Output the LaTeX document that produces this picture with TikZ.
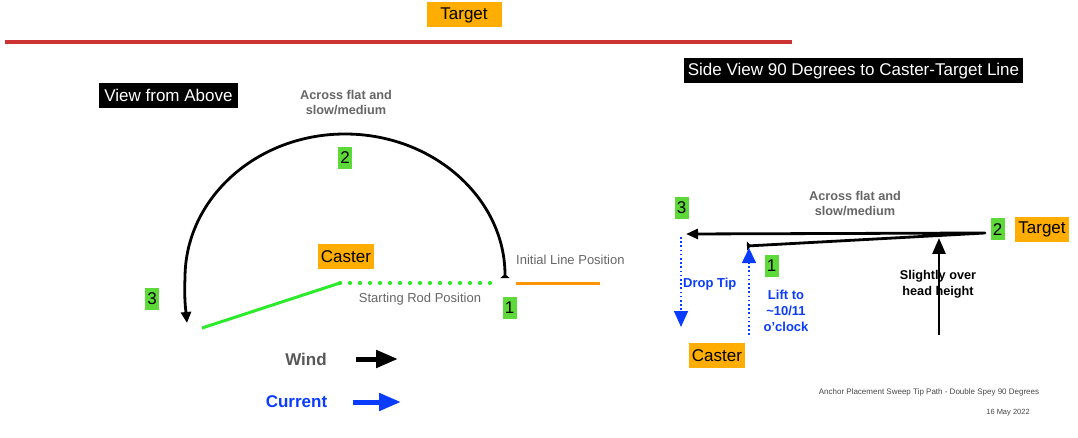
\documentclass[tikz,border=0pt]{standalone}
\usepackage{fontspec}
\setmainfont{Liberation Sans}
\usetikzlibrary{arrows.meta}
\definecolor{boxorange}{HTML}{FFAD00}
\definecolor{boxgreen}{HTML}{5DD939}
\definecolor{rodgreen}{HTML}{2BEB2B}
\definecolor{lineorange}{HTML}{FF9500}
\definecolor{targetred}{HTML}{CC3333}
\definecolor{flowblue}{HTML}{0A3CFF}
\definecolor{txtgray}{HTML}{666666}
\begin{document}
\begin{tikzpicture}[x=1pt,y=-1pt,
  obox/.style={fill=boxorange, text=black, inner xsep=3pt, inner ysep=0pt, minimum height=25pt, font=\fontsize{17}{20}\selectfont},
  gbox/.style={fill=boxgreen, text=black, inner sep=0pt, minimum width=14pt, minimum height=22pt, font=\fontsize{17}{20}\selectfont},
  bbox/.style={fill=black, text=white, inner xsep=3pt, inner ysep=0pt, minimum height=25pt, font=\fontsize{17}{20}\selectfont},
  graybold/.style={text=txtgray, align=center, inner sep=0pt, font=\bfseries\fontsize{12.7}{15}\selectfont},
  grayreg/.style={text=txtgray, inner sep=0pt, font=\fontsize{13}{15}\selectfont},
  bluebold/.style={text=flowblue, align=center, inner sep=0pt, font=\bfseries\fontsize{13}{16}\selectfont},
  blackbold/.style={text=black, align=center, inner sep=0pt, font=\bfseries\fontsize{12.7}{16}\selectfont},
  footer/.style={text=txtgray!70!black, inner sep=0pt, font=\fontsize{8}{10}\selectfont},
  pathline/.style={line width=2.8pt, black},
  bigarrow/.style={line width=5pt, -{Triangle[length=22pt,width=17pt]}},
]
\useasboundingbox (0,0) rectangle (1078,438);

% ---------- top target ----------
\node[obox, minimum width=75pt] (tgtTop) at (464,15) {Target};
\coordinate (redL) at (5,42);
\coordinate (redR) at (792,42);
\draw[targetred, line width=4pt] (redL) -- (redR);

% ---------- view from above ----------
\node[bbox, minimum width=139pt] (vfa) at (168.5,95.5) {View from Above};
\node[graybold] (aflL) at (346,103) {Across flat and\\slow/medium};

\coordinate (arcS) at (505,278);
\coordinate (arcE) at (187,323);
\draw[pathline, {Triangle[reversed,length=4pt,width=9pt]}-{Triangle[length=11pt,width=10pt]}]
  (arcS) arc[start angle=0, end angle=180, x radius=160pt, y radius=144pt]
  .. controls (184,300) and (186,312) .. (arcE);

\node[gbox] (n2) at (345,158) {2};
\node[gbox] (n3) at (152,298.5) {3};
\node[gbox] (n1) at (509.5,307.5) {1};
\node[obox] (casL) at (346,256.5) {Caster};

\coordinate (rodC) at (340,283);
\coordinate (rodE) at (500,283);
\coordinate (rodT) at (202,328);
\draw[rodgreen, line width=4.2pt, line cap=round, dash pattern=on 0pt off 10pt] (rodC) -- (rodE);
\draw[rodgreen, line width=3pt] (rodC) -- (rodT);

\coordinate (initL) at (516,283);
\coordinate (initR) at (600,283);
\draw[lineorange, line width=3pt] (initL) -- (initR);
\node[grayreg, anchor=west] (ilp) at (516,260) {Initial Line Position};
\node[grayreg] (srp) at (420,299) {Starting Rod Position};

\node[text=txtgray!85!black, inner sep=0pt, font=\bfseries\fontsize{17}{20}\selectfont] (wind) at (306,359) {Wind};
\node[text=flowblue, inner sep=0pt, font=\bfseries\fontsize{17}{20}\selectfont] (cur) at (296.5,402) {Current};
\coordinate (wA) at (356,359);
\coordinate (wB) at (398,359);
\coordinate (cA) at (353,402);
\coordinate (cB) at (401,402);
\draw[bigarrow, black] (wA) -- (wB);
\draw[bigarrow, flowblue] (cA) -- (cB);

% ---------- side view ----------
\node[bbox, minimum width=339pt] (sv) at (853.5,71) {Side View 90 Degrees to Caster-Target Line};
\node[graybold] (aflR) at (855,203.5) {Across flat and\\slow/medium};

\node[gbox] (r3) at (681.5,208) {3};
\node[gbox] (r2) at (997.5,229.5) {2};
\node[obox] (tgtR) at (1042,229.5) {Target};
\node[gbox] (r1) at (771.5,266) {1};
\node[obox] (casR) at (717,355.5) {Caster};

\coordinate (liftTop) at (747,246);
\coordinate (turn) at (985,233);
\coordinate (castTip) at (686,234);
\draw[pathline, line join=round, {Triangle[reversed,length=4pt,width=9pt]}-{Triangle[length=12pt,width=10pt]}]
  (liftTop) -- (turn) -- (castTip);

\coordinate (hhB) at (939,335);
\coordinate (hhT) at (939,238);
\draw[pathline, -{Triangle[length=16pt,width=13pt]}] (hhB) -- (hhT);
\node[blackbold] (shh) at (938,284) {Slightly over\\head height};

\coordinate (dropA) at (681,237);
\coordinate (dropB) at (681,327);
\draw[flowblue, line width=1.6pt, dash pattern=on 1.6pt off 2.6pt, -{Triangle[length=16pt,width=14pt]}] (dropA) -- (dropB);
\node[bluebold, anchor=west] (drop) at (683,284) {Drop Tip};

\coordinate (liftA) at (749,335);
\coordinate (liftB) at (749,248);
\draw[flowblue, line width=1.6pt, dash pattern=on 1.6pt off 2.6pt, -{Triangle[length=15pt,width=14pt]}] (liftA) -- (liftB);
\node[bluebold] (lift) at (786,311) {Lift to\\\textasciitilde10/11\\o’clock};

\node[footer] (foot1) at (929,392) {Anchor Placement Sweep Tip Path - Double Spey 90 Degrees};
\node[footer, font=\fontsize{7.5}{9}\selectfont] (foot2) at (1008,413) {16 May 2022};
\end{tikzpicture}
\end{document}
